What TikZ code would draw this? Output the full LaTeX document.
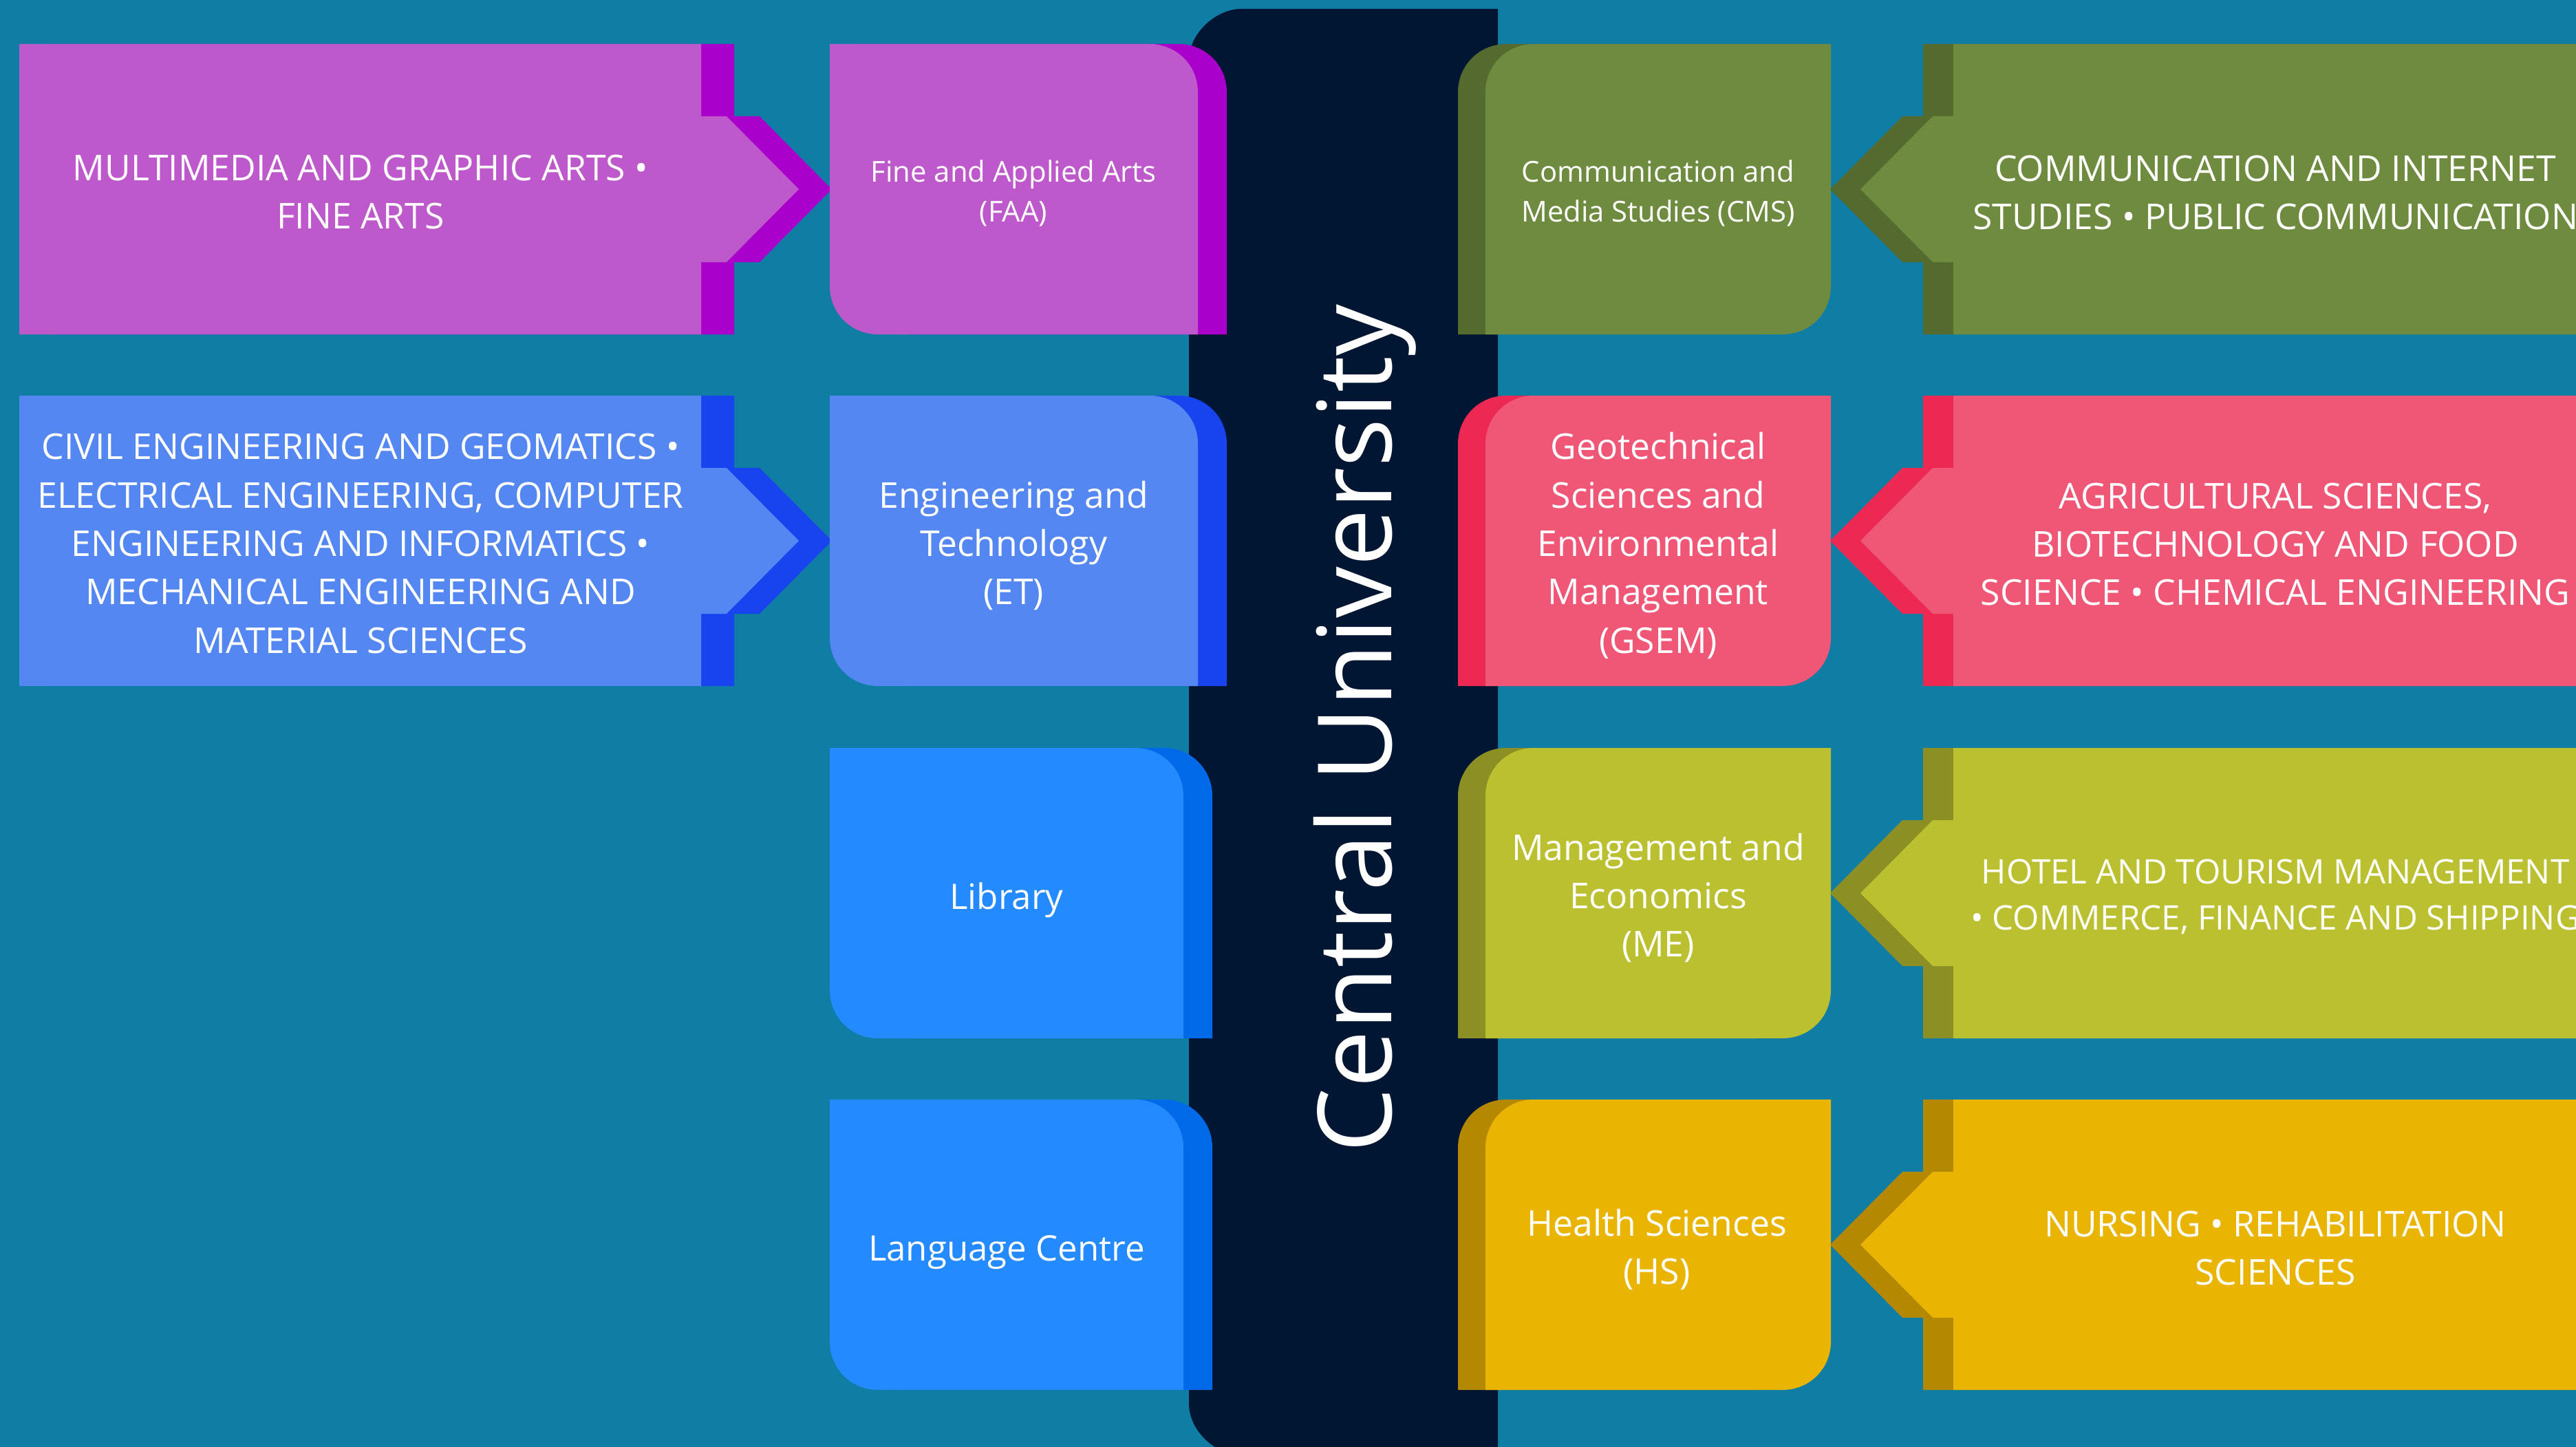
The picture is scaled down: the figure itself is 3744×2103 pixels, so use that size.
\documentclass[tikz,border=0pt]{standalone}
\usepackage{fontspec}
\setmainfont{Open Sans}

\definecolor{bgteal}{HTML}{107DA5}
\definecolor{navy}{HTML}{001632}
\definecolor{faaL}{HTML}{BD59CB}
\definecolor{faaD}{HTML}{AA00CC}
\definecolor{etL}{HTML}{5487F2}
\definecolor{etD}{HTML}{1744EE}
\definecolor{libL}{HTML}{248AFF}
\definecolor{libD}{HTML}{006AE8}
\definecolor{cmsL}{HTML}{6E8B40}
\definecolor{cmsD}{HTML}{546A2F}
\definecolor{gsemL}{HTML}{F05676}
\definecolor{gsemD}{HTML}{EC2952}
\definecolor{meL}{HTML}{BAC02F}
\definecolor{meD}{HTML}{8C8F24}
\definecolor{hsL}{HTML}{E9B402}
\definecolor{hsD}{HTML}{B48800}

% outlines, #1 = top edge of the row
\newcommand{\listL}[1]{(28,#1) -- (1019,#1) -- (1019,#1+105) -- (1056,#1+105) -- (1161,#1+211) -- (1056,#1+317) -- (1019,#1+317) -- (1019,#1+422) -- (28,#1+422) -- cycle}
\newcommand{\listR}[1]{(3800,#1) -- (2839,#1) -- (2839,#1+105) -- (2809,#1+105) -- (2704,#1+211) -- (2809,#1+317) -- (2839,#1+317) -- (2839,#1+422) -- (3800,#1+422) -- cycle}
\newcommand{\unitL}[2]{(1206,#1) -- (#2-70,#1) .. controls (#2-31,#1) and (#2,#1+31) .. (#2,#1+70) -- (#2,#1+422) -- (1276,#1+422) .. controls (1237,#1+422) and (1206,#1+391) .. (1206,#1+352) -- cycle}
\newcommand{\unitR}[1]{(2661,#1) -- (2229,#1) .. controls (2190,#1) and (2159,#1+31) .. (2159,#1+70) -- (2159,#1+422) -- (2591,#1+422) .. controls (2630,#1+422) and (2661,#1+391) .. (2661,#1+352) -- cycle}

\begin{document}
\begin{tikzpicture}[x=0.01cm, y=-0.01cm,
    every node/.style={text=white, align=center, inner sep=0pt},
    listtext/.style={font=\fontsize{14.7}{20}\selectfont},
    unittext/.style={font=\fontsize{14.7}{20}\selectfont},
    smalltext/.style={font=\fontsize{11.9}{16.4}\selectfont},
    servtext/.style={font=\fontsize{14.5}{20}\selectfont},
    titletext/.style={font=\fontsize{42.4}{50}\selectfont, rotate=90, anchor=base}]
        \clip (0,0) rectangle (3744,2103);
        \fill [bgteal] (0,0) rectangle (3744,2103);

        % central bar
        \fill [navy] (2177,13) -- (1803,13) .. controls (1769,13) and (1728,47) .. (1728,88)
            -- (1728,2040) .. controls (1728,2081) and (1769,2115) .. (1803,2115) -- (2177,2115) -- cycle;

        % departments on the left
        \foreach \T/\lc/\dc in {64/faaL/faaD, 575/etL/etD} {
            \fill [\dc, shift={(48,0)}] \listL{\T};
            \fill [\lc] \listL{\T};
        }

        % faculties and services, left column
        \foreach \T/\R/\lc/\dc in {64/1741/faaL/faaD, 575/1741/etL/etD, 1087/1720/libL/libD, 1598/1720/libL/libD} {
            \fill [\dc, shift={(42,0)}] \unitL{\T}{\R};
            \fill [\lc] \unitL{\T}{\R};
        }

        % faculties, right column
        \foreach \T/\lc/\dc in {64/cmsL/cmsD, 575/gsemL/gsemD, 1087/meL/meD, 1598/hsL/hsD} {
            \fill [\dc, shift={(-40,0)}] \unitR{\T};
            \fill [\lc] \unitR{\T};
        }

        % departments on the right
        \foreach \T/\lc/\dc in {64/cmsL/cmsD, 575/gsemL/gsemD, 1087/meL/meD, 1598/hsL/hsD} {
            \fill [\dc, shift={(-44,0)}] \listR{\T};
            \fill [\lc] \listR{\T};
        }

        \node [titletext] (cu) at (2022,1059) {Central University};

        \node [listtext] (mga) at (524,279) {MULTIMEDIA AND GRAPHIC ARTS •\\FINE ARTS};
        \node [listtext] (civ) at (524,790) {CIVIL ENGINEERING AND GEOMATICS •\\ELECTRICAL ENGINEERING, COMPUTER\\ENGINEERING AND INFORMATICS •\\MECHANICAL ENGINEERING AND\\MATERIAL SCIENCES};

        \node [smalltext] (faa) at (1473,281) {Fine and Applied Arts\\(FAA)};
        \node [unittext] (et) at (1473,793) {Engineering and\\Technology\\(ET)};
        \node [servtext] (lib) at (1463,1308) {Library};
        \node [servtext] (lc) at (1463,1820) {Language Centre};

        \node [smalltext] (cms) at (2410,281) {Communication and\\Media Studies (CMS)};
        \node [unittext] (gsem) at (2410,793) {Geotechnical\\Sciences and\\Environmental\\Management\\(GSEM)};
        \node [unittext] (me) at (2410,1305) {Management and\\Economics\\(ME)};
        \node [unittext] (hs) at (2408,1816) {Health Sciences\\(HS)};

        \node [listtext] (cis) at (3307,280) {COMMUNICATION AND INTERNET\\STUDIES • PUBLIC COMMUNICATION};
        \node [listtext] (agr) at (3307,791) {AGRICULTURAL SCIENCES,\\BIOTECHNOLOGY AND FOOD\\SCIENCE • CHEMICAL ENGINEERING};
        \node [listtext, font=\fontsize{14}{19}\selectfont] (htm) at (3307,1303) {HOTEL AND TOURISM MANAGEMENT\\• COMMERCE, FINANCE AND SHIPPING};
        \node [listtext] (nur) at (3307,1814) {NURSING • REHABILITATION\\SCIENCES};
      \end{tikzpicture}
\end{document}
